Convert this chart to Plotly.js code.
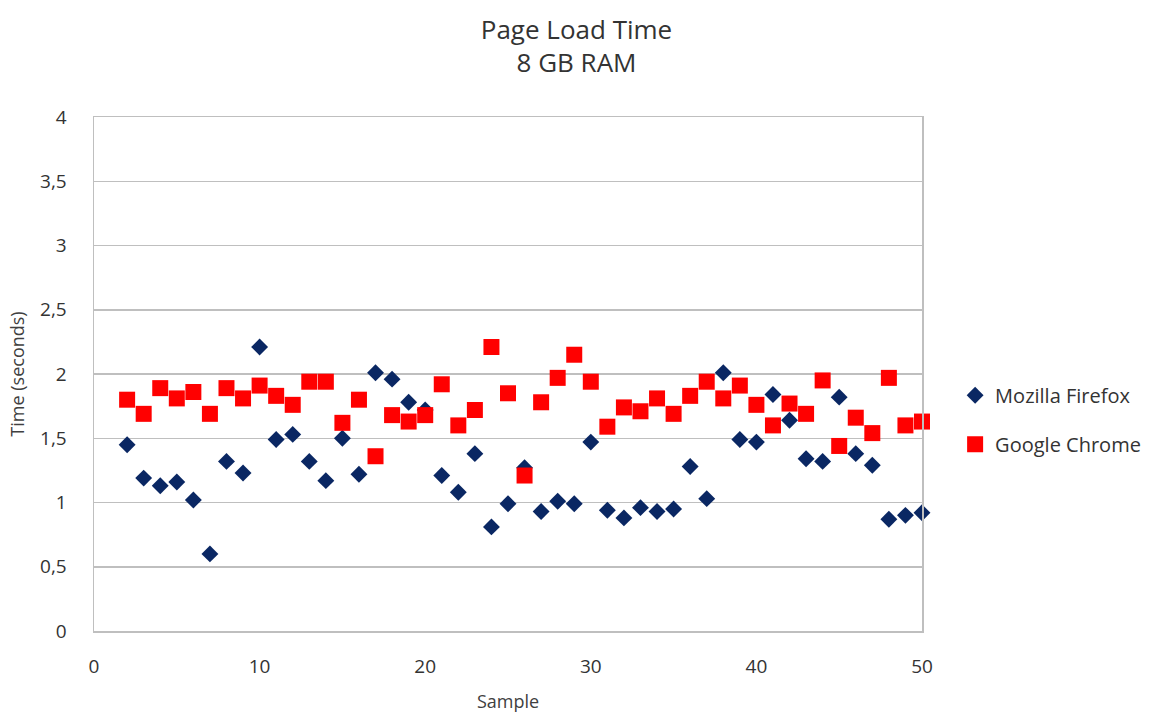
<!DOCTYPE html>
<html>
<head>
<meta charset="utf-8">
<script src="https://cdn.plot.ly/plotly-3.0.1.min.js"></script>
<style>html,body{margin:0;padding:0;background:#fff;}#chart{width:1153px;height:713px;}</style>
</head>
<body>
<div id="chart"></div>
<script>
const samples = [2,3,4,5,6,7,8,9,10,11,12,13,14,15,16,17,18,19,20,21,22,23,24,25,26,27,28,29,30,31,32,33,34,35,36,37,38,39,40,41,42,43,44,45,46,47,48,49,50];
const firefox = [1.45,1.19,1.13,1.16,1.02,0.60,1.32,1.23,2.21,1.49,1.53,1.32,1.17,1.50,1.22,2.01,1.96,1.78,1.72,1.21,1.08,1.38,0.81,0.99,1.27,0.93,1.01,0.99,1.47,0.94,0.88,0.96,0.93,0.95,1.28,1.03,2.01,1.49,1.47,1.84,1.64,1.34,1.32,1.82,1.38,1.29,0.87,0.90,0.92];
const chrome = [1.80,1.69,1.89,1.81,1.86,1.69,1.89,1.81,1.91,1.83,1.76,1.94,1.94,1.62,1.80,1.36,1.68,1.63,1.68,1.92,1.60,1.72,2.21,1.85,1.21,1.78,1.97,2.15,1.94,1.59,1.74,1.71,1.81,1.69,1.83,1.94,1.81,1.91,1.76,1.60,1.77,1.69,1.95,1.44,1.66,1.54,1.97,1.60,1.63];
const seriesNames = ["Mozilla Firefox", "Google Chrome"];
const titleLines = ["Page Load Time", "8 GB RAM"];

const font = "Open Sans, Noto Sans, sans-serif";
const traces = [
  {x: samples, y: firefox, name: seriesNames[0], type: "scatter", mode: "markers", legendgroup: "a",
   marker: {symbol: "diamond", size: 13, color: "#0a2763"}, cliponaxis: false},
  {x: samples, y: chrome, name: seriesNames[1], type: "scatter", mode: "markers", legendgroup: "b",
   marker: {symbol: "square", size: 16, color: "#ff0000"}, cliponaxis: false}
];
const layout = {
  width: 1153, height: 713,
  separators: ", ",
  paper_bgcolor: "#fff", plot_bgcolor: "#fff",
  margin: {l: 94, r: 231, t: 117, b: 82, autoexpand: false},
  font: {family: font, color: "#404040", size: 16},
  title: {text: titleLines.join("<br>"), x: 0.5, xref: "container", xanchor: "center",
          y: 0.946, yref: "container", yanchor: "middle",
          font: {family: font, size: 26, color: "#333"}},
  xaxis: {range: [0, 50], tickvals: [0,10,20,30,40,50], showgrid: false, zeroline: false,
          showline: true, mirror: true, linecolor: "#bfbfbf", linewidth: 1.5, ticks: "",
          ticklabelstandoff: 18, tickfont: {size: 19, color: "#333"},
          title: {text: "Sample", standoff: 19, font: {size: 18, color: "#404040"}}},
  yaxis: {range: [0, 4], tickvals: [0,0.5,1,1.5,2,2.5,3,3.5,4], showgrid: true, gridcolor: "#bfbfbf",
          gridwidth: 1.5, zeroline: false, showline: true, mirror: true, linecolor: "#bfbfbf",
          linewidth: 1.5, ticks: "", ticklabelstandoff: 22, tickfont: {size: 19, color: "#333"},
          title: {text: "Time (seconds)", standoff: 10, font: {size: 18, color: "#404040"}}},
  legend: {x: 1.04, xanchor: "left", y: 0.411, yanchor: "middle", traceorder: "grouped",
           tracegroupgap: 20, font: {size: 20, color: "#333"}, bgcolor: "rgba(0,0,0,0)"},
  showlegend: true
};
Plotly.newPlot("chart", traces, layout, {displayModeBar: false, staticPlot: true});
</script>
</body>
</html>
